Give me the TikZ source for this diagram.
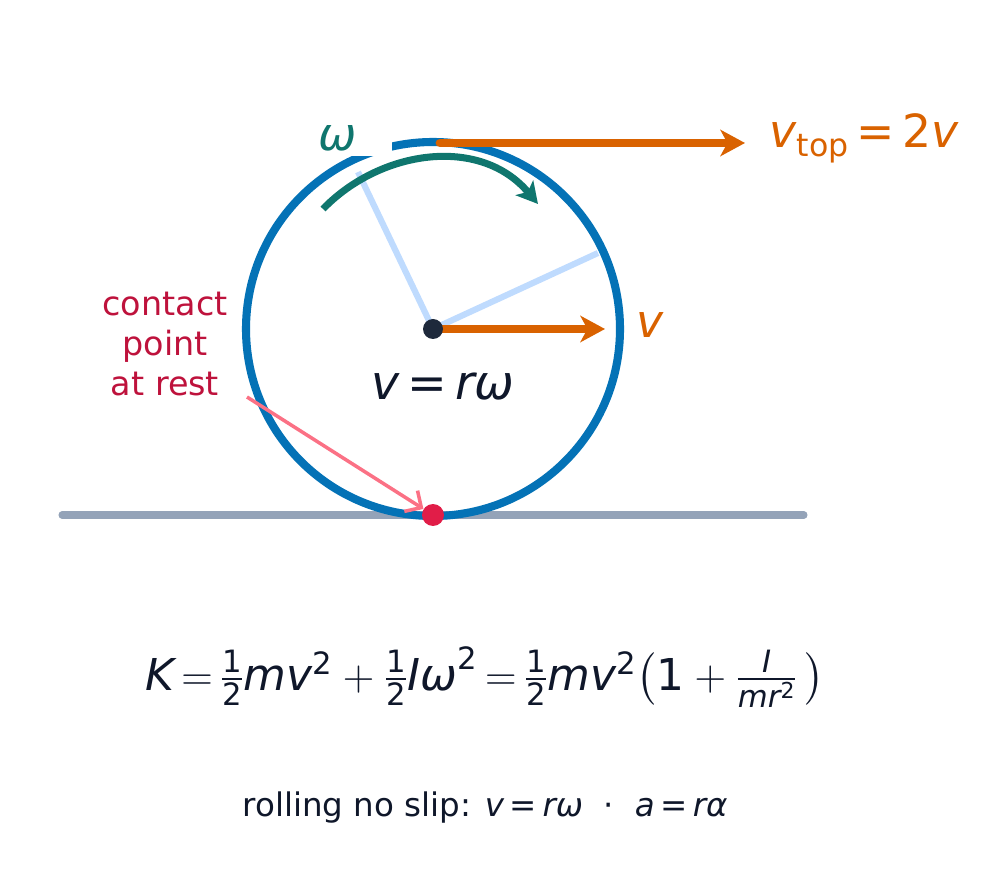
\documentclass[tikz,border=0pt]{standalone}
\usepackage{amsmath}
\usepackage{fontspec}
\setmainfont{DejaVu Sans}
\usetikzlibrary{arrows.meta}
\definecolor{wheel}{HTML}{0472B6}
\definecolor{spoke}{HTML}{BFDBFE}
\definecolor{ground}{HTML}{94A3B8}
\definecolor{teal}{HTML}{0F766E}
\definecolor{orng}{HTML}{D96200}
\definecolor{ink}{HTML}{0F172A}
\definecolor{hub}{HTML}{1E293B}
\definecolor{red}{HTML}{E11D48}
\definecolor{crim}{HTML}{BE123C}
\definecolor{pink}{HTML}{FB7185}
\newcommand{\iv}[1]{\textit{#1}}
\begin{document}
\begin{tikzpicture}[x=0.02cm,y=-0.02cm,
  vel/.style={orng,line width=5pt,line cap=round,-{Stealth[length=14pt,width=15pt,inset=4pt]}},
  lab/.style={font=\fontsize{26}{30}\selectfont}]
\useasboundingbox (0,0) rectangle (995,871);
\draw[ground,line width=4pt,line cap=round] (62,515) -- (804,515);
\coordinate (c) at (433,329);
\draw[spoke,line width=3.5pt] (c) -- (358,172);
\draw[spoke,line width=3.5pt] (c) -- (598,253);
\draw[wheel,line width=4.6pt] (c) circle (187);
\node[lab,text=teal,fill=white,inner sep=3pt,minimum width=62] (w) at (338,138) {\iv{ω}};
\draw[teal,line width=4pt,-{Stealth[length=12pt,width=13pt,inset=3pt]}] (323,209) .. controls (380,150) and (480,135) .. (538,204);
\draw[vel] (440,143) -- (745,143);
\node[lab,text=orng,anchor=west] (vt) at (763,138) {\iv{v}\raisebox{-0.35ex}{\fontsize{18}{20}\selectfont top}\,=\,2\iv{v}};
\draw[vel] (c) ++(7,0) -- (605,329);
\node[lab,text=orng] (v) at (650,325) {\iv{v}};
\fill[hub] (c) circle (10);
\node[text=ink,font=\fontsize{27}{30}\selectfont] (eq) at (443,387) {\iv{v}\,=\,\iv{rω}};
\node[text=crim,align=center,font=\fontsize{19}{23}\selectfont] (cp) at (165,344) {contact\\point\\at rest};
\node[circle,fill=red,minimum size=12.5pt,inner sep=0] (p) at (433,515) {};
\draw[pink,line width=2pt,-{Straight Barb[length=7pt]}] (247,397) -- (p);
\node[text=ink,font=\fontsize{25}{30}\selectfont] (K) at (485,677) {$\iv{K}\,{=}\,\frac{\text{1}}{\text{2}}\iv{mv}^{\text{2}}+\frac{\text{1}}{\text{2}}\iv{Iω}^{\text{2}}\,{=}\,\frac{\text{1}}{\text{2}}\iv{mv}^{\text{2}}\!\left(\text{1}+\frac{\iv{I}}{\iv{mr}^{\text{2}}}\,\right)$};
\node[text=ink,font=\fontsize{18.5}{22}\selectfont] (r) at (485,808) {rolling no slip: \iv{v}\,=\,\iv{rω} \ ·\ \ \iv{a}\,=\,\iv{rα}};
\end{tikzpicture}
\end{document}
